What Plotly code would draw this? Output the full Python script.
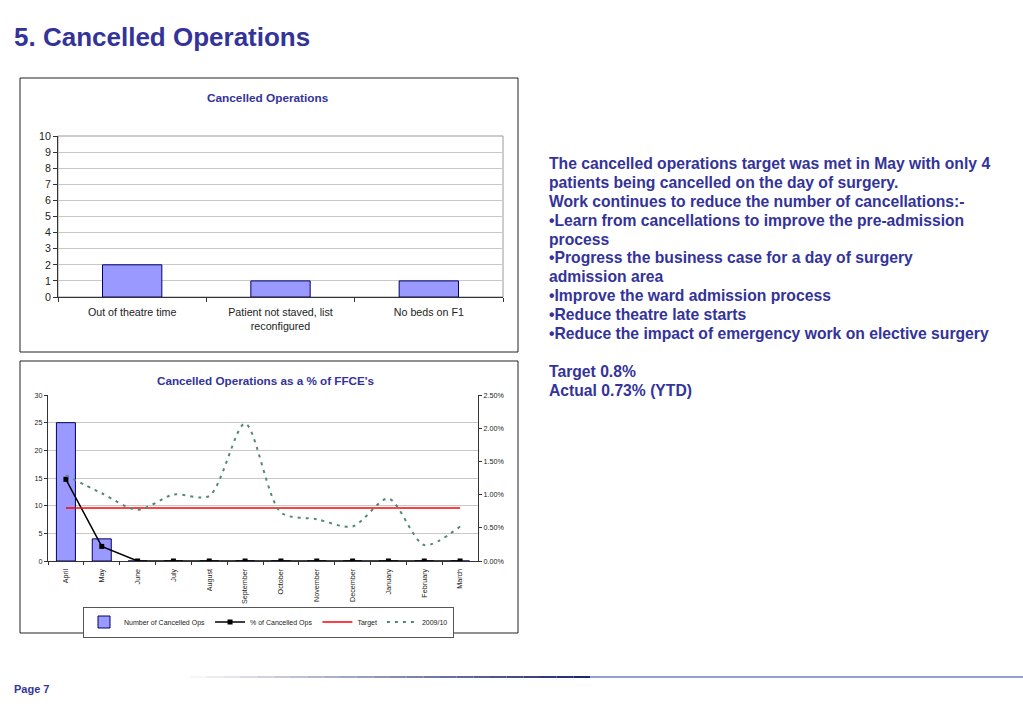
import plotly.graph_objects as go

# ---------------- data ----------------
reasons = ["Out of theatre time", "Patient not staved, list<br>reconfigured", "No beds on F1"]
reason_counts = [2, 1, 1]

months = ["April", "May", "June", "July", "August", "September", "October",
          "November", "December", "January", "February", "March"]
cancelled_ops = [25, 4, 0, 0, 0, 0, 0, 0, 0, 0, 0, 0]
pct_cancelled = [0.0123, 0.0022, 0, 0, 0, 0, 0, 0, 0, 0, 0, 0]
target_pct = [0.008] * 12
prev_year_pct = [0.0129, 0.0102, 0.0077, 0.0100, 0.0098, 0.0207, 0.0073,
                 0.0063, 0.0052, 0.0094, 0.0024, 0.0052]

text_lines = [
    "The cancelled operations target was met in May with only 4",
    "patients being cancelled on the day of surgery.",
    "Work continues to reduce the number of cancellations:-",
    "•Learn from cancellations to improve the pre-admission",
    "process",
    "•Progress the business case for a day of surgery",
    "admission area",
    "•Improve the ward admission process",
    "•Reduce theatre late starts",
    "•Reduce the impact of emergency work on elective surgery",
    "",
    "Target 0.8%",
    "Actual 0.73% (YTD)",
]

W, H = 1023, 708
BLUE = "#333399"
FONT = "Arial, 'Liberation Sans', sans-serif"


def px(x):
    return x / W


def py(y):
    return 1 - y / H


fig = go.Figure()

# top chart
fig.add_trace(go.Bar(x=reasons, y=reason_counts, xaxis="x", yaxis="y",
                     width=0.4, marker=dict(color="#9999FF", line=dict(color="#000066", width=1)),
                     showlegend=False))

# bottom chart
fig.add_trace(go.Bar(x=months, y=cancelled_ops, xaxis="x2", yaxis="y2", width=0.53,
                     name="Number of Cancelled Ops",
                     marker=dict(color="#9999FF", line=dict(color="#000066", width=1))))
fig.add_trace(go.Scatter(x=months, y=pct_cancelled, xaxis="x2", yaxis="y3",
                         name="% of Cancelled Ops", mode="lines+markers",
                         line=dict(color="black", width=1.5),
                         marker=dict(symbol="square", size=5, color="black")))
fig.add_trace(go.Scatter(x=months, y=target_pct, xaxis="x2", yaxis="y3",
                         name="Target", mode="lines",
                         line=dict(color="#FF0000", width=1.5)))
fig.add_trace(go.Scatter(x=months, y=prev_year_pct, xaxis="x2", yaxis="y3",
                         name="2009/10", mode="lines",
                         line=dict(color="#4F8A72", width=2, dash="3px,5px", shape="spline", smoothing=0.8)))

axis_font_top = dict(family=FONT, size=10.7, color="#222")
axis_font_bot = dict(family=FONT, size=7.2, color="#222")

fig.update_layout(
    template="none",
    width=W, height=H, autosize=False,
    margin=dict(l=0, r=0, t=0, b=0, pad=0, autoexpand=False),
    paper_bgcolor="white", plot_bgcolor="white",
    font=dict(family=FONT),
    xaxis=dict(domain=[px(58), px(503)], anchor="y", type="category", automargin=False,
               range=[-0.5, 2.5],
               showline=True, linecolor="#333", linewidth=1,
               ticks="outside", tickson="boundaries", ticklen=4, tickcolor="#333",
               ticklabelstandoff=5,
               tickfont=axis_font_top, showgrid=False, zeroline=False),
    yaxis=dict(domain=[py(297), py(136)], anchor="x", range=[0, 10], dtick=1, automargin=False,
               showline=True, linecolor="#333", linewidth=1,
               ticks="outside", ticklen=4, tickcolor="#333",
               tickfont=axis_font_top, showgrid=True, gridcolor="#C8C8C8", gridwidth=1,
               zeroline=False),
    xaxis2=dict(domain=[px(48), px(478)], anchor="y2", type="category", automargin=False,
                range=[-0.5, 11.5],
                showline=True, linecolor="#333", linewidth=1,
                ticks="outside", tickson="boundaries", ticklen=3, tickcolor="#333",
                ticklabelstandoff=4,
                tickangle=-90, tickfont=axis_font_bot, showgrid=False, zeroline=False),
    yaxis2=dict(domain=[py(561), py(395)], anchor="x2", range=[0, 30], dtick=5, automargin=False,
                showline=True, linecolor="#333", linewidth=1,
                ticks="outside", ticklen=3, tickcolor="#333",
                tickfont=axis_font_bot, showgrid=True, gridcolor="#C8C8C8", gridwidth=1,
                zeroline=False),
    yaxis3=dict(overlaying="y2", side="right", anchor="x2", range=[0, 0.025], dtick=0.005,
                automargin=False,
                tickformat=".2%", showline=True, linecolor="#333", linewidth=1,
                ticks="outside", ticklen=3, tickcolor="#333",
                tickfont=axis_font_bot, showgrid=False, zeroline=False),
    legend=dict(orientation="h", x=px(83), y=py(622), xanchor="left", yanchor="middle",
                bordercolor="#555", borderwidth=1, bgcolor="white",
                font=dict(family=FONT, size=7, color="#222"),
                itemwidth=30, tracegroupgap=0),
    showlegend=True,
)

shapes = []
# chart frames
shapes.append(dict(type="rect", xref="paper", yref="paper", x0=px(20), x1=px(518),
                   y0=py(352), y1=py(78), line=dict(color="#222", width=1)))
shapes.append(dict(type="rect", xref="paper", yref="paper", x0=px(20), x1=px(518),
                   y0=py(633), y1=py(361), line=dict(color="#222", width=1)))
# top plot-area border
shapes.append(dict(type="rect", xref="x domain", yref="y domain", x0=0, x1=1, y0=0, y1=1,
                   line=dict(color="#999", width=1), layer="below"))

# footer gradient line
n = 24
x_start, x_end = 190, 590
for i in range(n):
    t = (i + 1) / n
    r = int(255 + (31 - 255) * t)
    g = int(255 + (42 - 255) * t)
    b = int(255 + (110 - 255) * t)
    shapes.append(dict(type="line", xref="paper", yref="paper",
                       x0=px(x_start + (x_end - x_start) * i / n),
                       x1=px(x_start + (x_end - x_start) * (i + 1) / n),
                       y0=py(677), y1=py(677),
                       line=dict(color=f"rgb({r},{g},{b})", width=2)))
shapes.append(dict(type="line", xref="paper", yref="paper", x0=px(590), x1=1,
                   y0=py(677), y1=py(677), line=dict(color="#6F7FC0", width=1.5)))

fig.update_layout(shapes=shapes)

annotations = [
    dict(text="<b>5. Cancelled Operations</b>", x=px(12), y=py(37), xanchor="left", yanchor="middle",
         font=dict(family=FONT, size=26, color=BLUE)),
    dict(text="<b>Cancelled Operations</b>", x=px(268), y=py(98), xanchor="center", yanchor="middle",
         font=dict(family=FONT, size=11.8, color=BLUE)),
    dict(text="<b>Cancelled Operations as a % of FFCE's</b>", x=px(266), y=py(380),
         xanchor="center", yanchor="middle", font=dict(family=FONT, size=11.7, color=BLUE)),
    dict(text="<b>Page 7</b>", x=px(12), y=py(689), xanchor="left", yanchor="middle",
         font=dict(family=FONT, size=11, color=BLUE)),
]
line_y = [163, 182, 201, 220, 239, 258, 276, 295, 314, 333, 352, 371, 390]
for txt, yy in zip(text_lines, line_y):
    if not txt:
        continue
    annotations.append(dict(text=f"<b>{txt}</b>", x=px(547), y=py(yy), xanchor="left",
                            yanchor="middle", font=dict(family=FONT, size=15.7, color=BLUE)))
for a in annotations:
    a.update(xref="paper", yref="paper", showarrow=False)
fig.update_layout(annotations=annotations)

fig.write_html("out.html", config={"displayModeBar": False},
               post_script="document.body.style.margin='0px';document.body.style.overflow='hidden';")
